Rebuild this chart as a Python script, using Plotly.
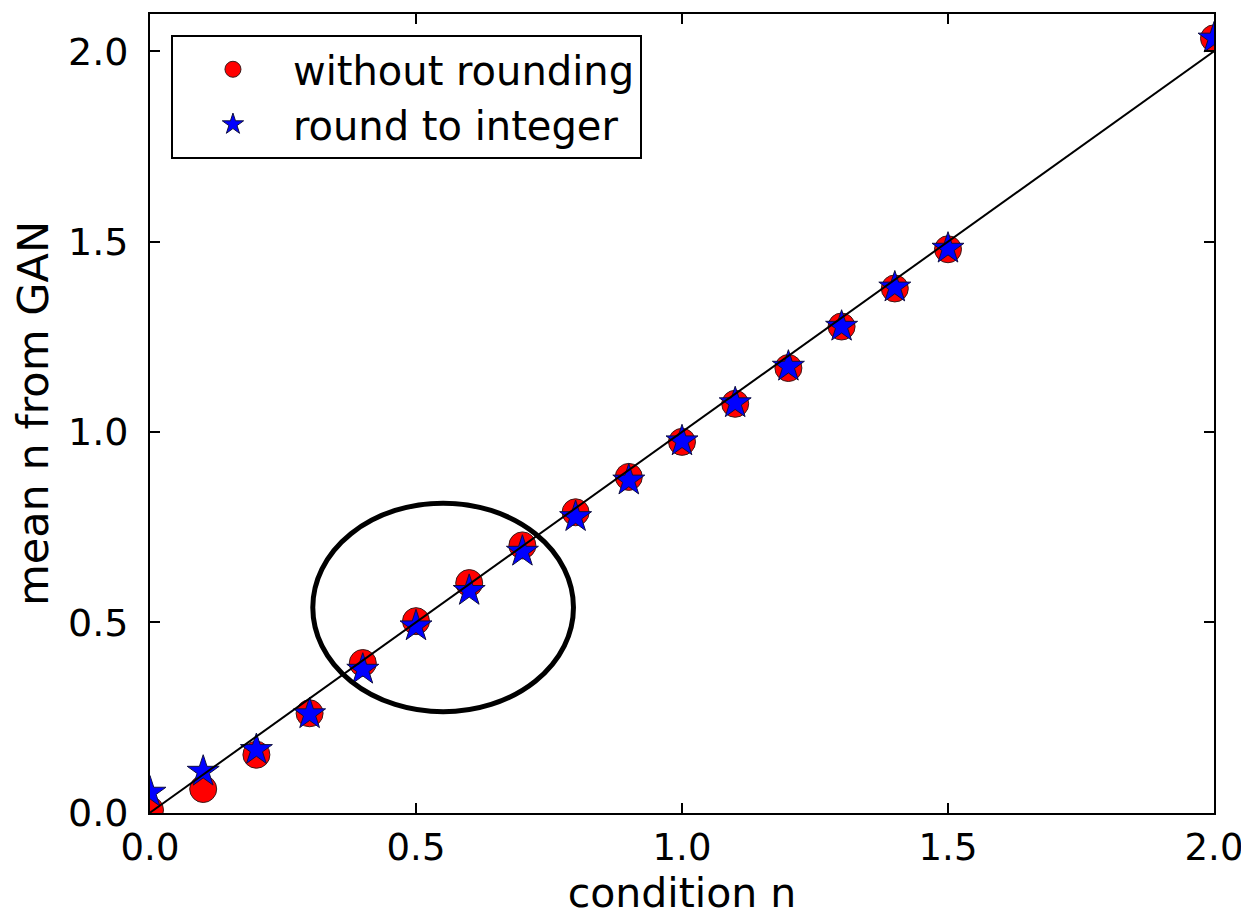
import plotly.graph_objects as go

# ---- data ----
condition_n = [0.0, 0.1, 0.2, 0.3, 0.4, 0.5, 0.6, 0.7, 0.8, 0.9, 1.0,
               1.1, 1.2, 1.3, 1.4, 1.5, 2.0]
mean_without_rounding = [0.007, 0.062, 0.152, 0.261, 0.393, 0.503, 0.603, 0.702,
                         0.789, 0.882, 0.974, 1.074, 1.168, 1.277, 1.377, 1.480, 2.034]
mean_round_to_integer = [0.053, 0.108, 0.165, 0.259, 0.376, 0.490, 0.583, 0.686,
                         0.777, 0.873, 0.976, 1.076, 1.172, 1.277, 1.380, 1.482, 2.034]
ideal_x = [0.0, 2.0]
ideal_y = [0.0, 2.0]
tick_vals = [0.0, 0.5, 1.0, 1.5, 2.0]
tick_text = ["0.0", "0.5", "1.0", "1.5", "2.0"]

# highlight ellipse (data units)
ellipse_x = [0.306, 0.796]
ellipse_y = [0.265, 0.813]

FONT = "DejaVu Sans"

fig = go.Figure()
fig.add_trace(go.Scatter(
    x=condition_n, y=mean_without_rounding, mode="markers",
    name="without rounding",
    marker=dict(symbol="circle", size=27, color="#ff0000",
                line=dict(color="#3a1a1a", width=1)),
))
fig.add_trace(go.Scatter(
    x=condition_n, y=mean_round_to_integer, mode="markers",
    name="round to integer",
    marker=dict(symbol="star", size=24, color="#0000ff",
                line=dict(color="#101040", width=1)),
))
fig.add_trace(go.Scatter(
    x=ideal_x, y=ideal_y, mode="lines", showlegend=False,
    line=dict(color="black", width=2),
))

fig.add_shape(type="circle", xref="x", yref="y",
              x0=ellipse_x[0], x1=ellipse_x[1], y0=ellipse_y[0], y1=ellipse_y[1],
              line=dict(color="black", width=5), layer="above")

axis_common = dict(
    showgrid=False, zeroline=False, showline=True, linecolor="black", linewidth=2,
    mirror="allticks", ticks="inside", ticklen=10, tickwidth=1.5, tickcolor="black",
    tickvals=tick_vals, ticktext=tick_text,
    tickfont=dict(family=FONT, size=38, color="black"),
)

fig.update_layout(
    width=1241, height=909,
    margin=dict(l=142, r=35, t=4, b=104),
    paper_bgcolor="white", plot_bgcolor="white",
    font=dict(family=FONT, color="black"),
    xaxis=dict(range=[0, 2.0], title=dict(text="condition n", standoff=10,
               font=dict(family=FONT, size=41)), ticklabelstandoff=1,
               **{**axis_common, "tickfont": dict(family=FONT, size=37, color="black")}),
    yaxis=dict(range=[-0.001, 2.098], title=dict(text="mean n from GAN", standoff=8,
               font=dict(family=FONT, size=43)), ticklabelstandoff=12, **axis_common),
    legend=dict(x=0.0197, y=0.974, xanchor="left", yanchor="top",
                bgcolor="white", bordercolor="black", borderwidth=2,
                font=dict(family=FONT, size=40, color="black"),
                itemwidth=110, tracegroupgap=0),
    showlegend=True,
)

fig.write_html("out.html")
